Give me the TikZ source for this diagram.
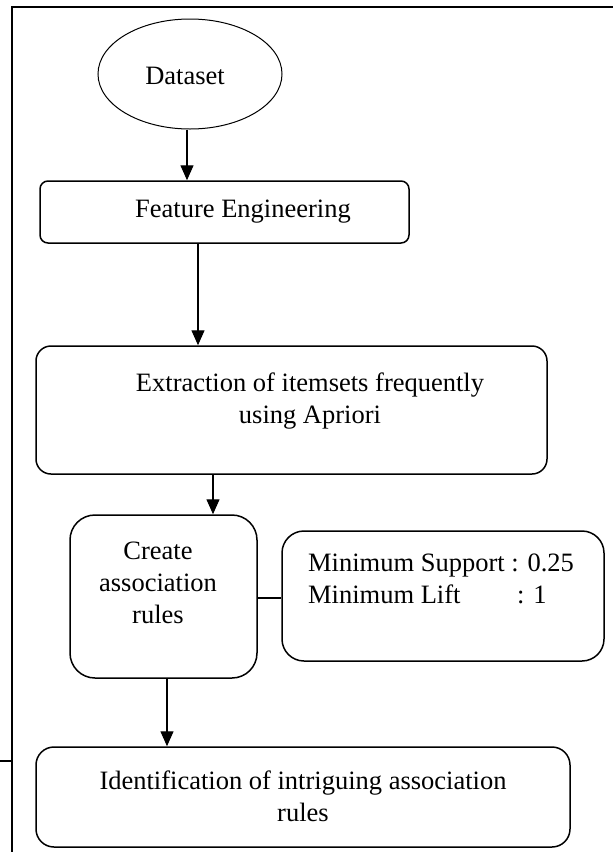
\documentclass[tikz,border=0pt]{standalone}
\usepackage{fontspec}
\setmainfont{Liberation Serif}
\usetikzlibrary{arrows.meta,shapes.geometric}
\begin{document}
\begin{tikzpicture}[x=1pt,y=-1pt,
  every node/.style={font=\fontsize{26.5}{32}\selectfont},
  stepbox/.style={draw, line width=1.5pt, rounded corners=#1, inner sep=0pt},
  stepbox/.default=10pt,
  txt/.style={align=center, inner sep=0pt},
  flow/.style={-{Triangle[length=15pt,width=13pt]}, line width=1.3pt},
  link/.style={line width=1.3pt}]
  \useasboundingbox (0,0) rectangle (613,852);

  % page frame
  \draw[line width=1.8pt] (613,7) -- (12,7) -- (12,852);
  \draw[line width=1.5pt] (0,761) -- (12,761);

  % process steps
  \node[ellipse, draw, line width=1pt, inner sep=0pt,
        minimum width=184pt, minimum height=110pt,
        label={[txt, xshift=-5pt, yshift=-2pt]center:Dataset}]
        (data) at (190,74) {};

  \node[stepbox=8pt, minimum width=369pt, minimum height=62pt,
        label={[txt, xshift=18.5pt]center:Feature Engineering}]
        (fe) at (224.5,212) {};

  \node[stepbox=15pt, minimum width=511pt, minimum height=128pt,
        label={[txt, xshift=18.5pt, yshift=9pt]center:Extraction of itemsets frequently\\using Apriori}]
        (ext) at (291.5,410) {};

  \node[stepbox=25pt, minimum width=187pt, minimum height=163pt,
        label={[txt, xshift=-5.5pt, yshift=13.5pt]center:Create\\association\\rules}]
        (cr) at (163.5,596.5) {};

  \node[stepbox=22pt, minimum width=322pt, minimum height=130pt,
        label={[txt, align=left, xshift=-2pt, yshift=17pt]center:Minimum Support : 0.25\\\makebox[209pt][l]{Minimum Lift}: 1}]
        (ms) at (443,596) {};

  \node[stepbox=18pt, minimum width=534pt, minimum height=100pt,
        label={[txt, yshift=1pt]center:Identification of intriguing association\\rules}]
        (id) at (303,797) {};

  % connectors
  \draw[flow] ([xshift=-3pt]data.south) -- ([xshift=-3pt]data.south |- fe.north);
  \draw[flow] ([xshift=-26.5pt]fe.south) -- ([xshift=-26.5pt]fe.south |- ext.north);
  \draw[flow] ([xshift=-78.5pt]ext.south) -- ([xshift=-78.5pt]ext.south |- cr.north);
  \draw[link] ([yshift=-1.5pt]cr.east) -- ([yshift=-1.5pt]cr.east -| ms.west);
  \draw[flow] ([xshift=3.5pt]cr.south) -- ([xshift=3.5pt]cr.south |- id.north);
\end{tikzpicture}
\end{document}
